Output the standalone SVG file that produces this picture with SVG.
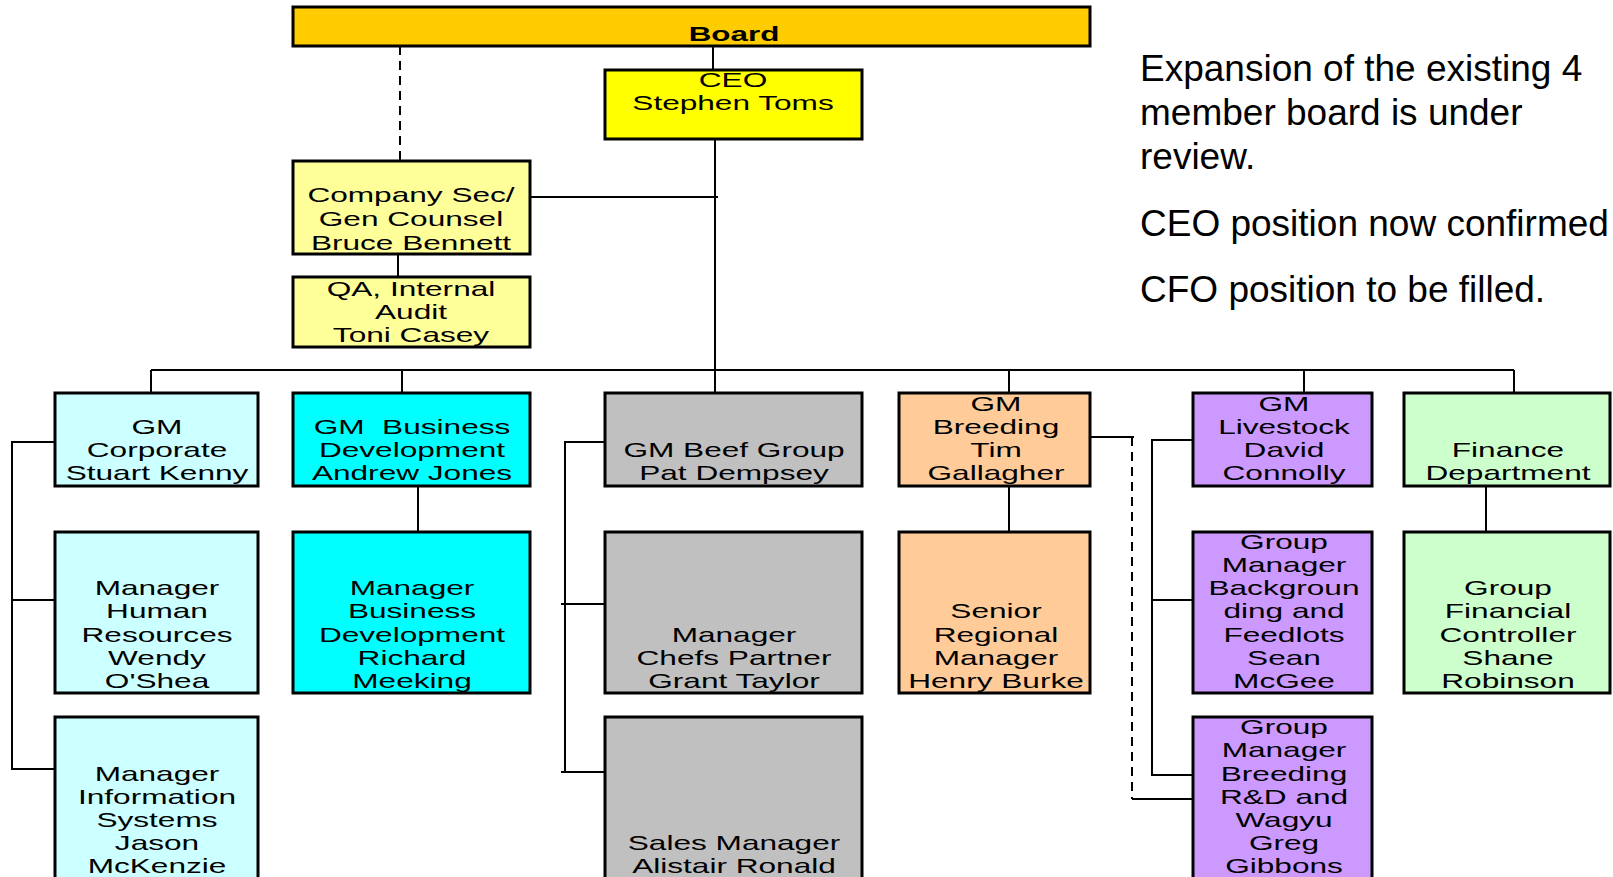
<svg xmlns="http://www.w3.org/2000/svg" width="1613" height="877" viewBox="0 0 1613 877">
<style>
.box{stroke:#000;stroke-width:3}
.t{font-family:"Liberation Sans",Arial,sans-serif;font-size:20px;fill:#000;text-anchor:middle}
.b{font-weight:bold}
.c{stroke:#000;stroke-width:2;fill:none}
.d{stroke:#000;stroke-width:2;fill:none;stroke-dasharray:9,6}
.note{font-family:"Liberation Sans",Arial,sans-serif;font-size:37px;fill:#000}
</style>
<rect width="1613" height="877" fill="#fff"/>
<g id="connectors">
<line class="c" x1="713" y1="46" x2="713" y2="70"/>
<line class="d" x1="400" y1="46" x2="400" y2="161"/>
<line class="c" x1="715" y1="139" x2="715" y2="393"/>
<line class="c" x1="526" y1="197" x2="718" y2="197"/>
<line class="c" x1="398" y1="254" x2="398" y2="277"/>
<line class="c" x1="151" y1="370" x2="1514" y2="370"/>
<line class="c" x1="151" y1="370" x2="151" y2="393"/>
<line class="c" x1="402" y1="370" x2="402" y2="393"/>
<line class="c" x1="1009" y1="370" x2="1009" y2="393"/>
<line class="c" x1="1304" y1="370" x2="1304" y2="393"/>
<line class="c" x1="1514" y1="370" x2="1514" y2="393"/>
<polyline class="c" points="55,442 12,442 12,769 55,769"/>
<line class="c" x1="12" y1="600" x2="55" y2="600"/>
<line class="c" x1="418" y1="486" x2="418" y2="532"/>
<polyline class="c" points="605,442 565,442 565,772"/>
<line class="c" x1="561" y1="604" x2="607" y2="604"/>
<line class="c" x1="561" y1="772" x2="610" y2="772"/>
<line class="c" x1="1009" y1="486" x2="1009" y2="532"/>
<line class="c" x1="1090" y1="437" x2="1134" y2="437"/>
<line class="d" x1="1132" y1="437" x2="1132" y2="799"/>
<line class="c" x1="1132" y1="799" x2="1193" y2="799"/>
<polyline class="c" points="1193,440 1152,440 1152,775 1193,775"/>
<line class="c" x1="1152" y1="600" x2="1193" y2="600"/>
<line class="c" x1="1486" y1="486" x2="1486" y2="532"/>
</g>
<g id="board">
<rect class="box" x="293" y="7" width="797" height="39" fill="#FFCC00"/>
<text class="t b" transform="translate(734,41) scale(1.57,1)">Board</text>
</g>
<g id="ceo">
<rect class="box" x="605" y="70" width="257" height="69" fill="#FFFF00"/>
<text class="t" transform="translate(733,0) scale(1.58,1)"><tspan x="0" y="87">CEO</tspan><tspan x="0" y="110">Stephen Toms</tspan></text>
</g>
<g id="company-sec">
<rect class="box" x="293" y="161" width="237" height="93" fill="#FFFF99"/>
<text class="t" transform="translate(411,0) scale(1.58,1)"><tspan x="0" y="202">Company Sec/</tspan><tspan x="0" y="226">Gen Counsel</tspan><tspan x="0" y="250">Bruce Bennett</tspan></text>
</g>
<g id="qa">
<rect class="box" x="293" y="277" width="237" height="70" fill="#FFFF99"/>
<text class="t" transform="translate(411,0) scale(1.58,1)"><tspan x="0" y="296">QA, Internal</tspan><tspan x="0" y="319">Audit</tspan><tspan x="0" y="342">Toni Casey</tspan></text>
</g>
<g id="gm-corporate">
<rect class="box" x="55" y="393" width="203" height="93" fill="#CCFFFF"/>
<text class="t" transform="translate(157,0) scale(1.58,1)"><tspan x="0" y="434">GM</tspan><tspan x="0" y="457">Corporate</tspan><tspan x="0" y="480">Stuart Kenny</tspan></text>
</g>
<g id="gm-business-dev">
<rect class="box" x="293" y="393" width="237" height="93" fill="#00FFFF"/>
<text class="t" transform="translate(412,0) scale(1.58,1)" xml:space="preserve"><tspan x="0" y="434">GM  Business</tspan><tspan x="0" y="457">Development</tspan><tspan x="0" y="480">Andrew Jones</tspan></text>
</g>
<g id="gm-beef">
<rect class="box" x="605" y="393" width="257" height="93" fill="#C0C0C0"/>
<text class="t" transform="translate(734,0) scale(1.58,1)"><tspan x="0" y="457">GM Beef Group</tspan><tspan x="0" y="480">Pat Dempsey</tspan></text>
</g>
<g id="gm-breeding">
<rect class="box" x="899" y="393" width="191" height="93" fill="#FFCC99"/>
<text class="t" transform="translate(996,0) scale(1.58,1)"><tspan x="0" y="411">GM</tspan><tspan x="0" y="434">Breeding</tspan><tspan x="0" y="457">Tim</tspan><tspan x="0" y="480">Gallagher</tspan></text>
</g>
<g id="gm-livestock">
<rect class="box" x="1193" y="393" width="179" height="93" fill="#CC99FF"/>
<text class="t" transform="translate(1284,0) scale(1.58,1)"><tspan x="0" y="411">GM</tspan><tspan x="0" y="434">Livestock</tspan><tspan x="0" y="457">David</tspan><tspan x="0" y="480">Connolly</tspan></text>
</g>
<g id="finance">
<rect class="box" x="1404" y="393" width="206" height="93" fill="#CCFFCC"/>
<text class="t" transform="translate(1508,0) scale(1.58,1)"><tspan x="0" y="457">Finance</tspan><tspan x="0" y="480">Department</tspan></text>
</g>
<g id="manager-hr">
<rect class="box" x="55" y="532" width="203" height="161" fill="#CCFFFF"/>
<text class="t" transform="translate(157,0) scale(1.58,1)"><tspan x="0" y="595">Manager</tspan><tspan x="0" y="618">Human</tspan><tspan x="0" y="642">Resources</tspan><tspan x="0" y="665">Wendy</tspan><tspan x="0" y="688">O'Shea</tspan></text>
</g>
<g id="manager-business-dev">
<rect class="box" x="293" y="532" width="237" height="161" fill="#00FFFF"/>
<text class="t" transform="translate(412,0) scale(1.58,1)"><tspan x="0" y="595">Manager</tspan><tspan x="0" y="618">Business</tspan><tspan x="0" y="642">Development</tspan><tspan x="0" y="665">Richard</tspan><tspan x="0" y="688">Meeking</tspan></text>
</g>
<g id="manager-chefs">
<rect class="box" x="605" y="532" width="257" height="161" fill="#C0C0C0"/>
<text class="t" transform="translate(734,0) scale(1.58,1)"><tspan x="0" y="642">Manager</tspan><tspan x="0" y="665">Chefs Partner</tspan><tspan x="0" y="688">Grant Taylor</tspan></text>
</g>
<g id="senior-regional">
<rect class="box" x="899" y="532" width="191" height="161" fill="#FFCC99"/>
<text class="t" transform="translate(996,0) scale(1.58,1)"><tspan x="0" y="618">Senior</tspan><tspan x="0" y="642">Regional</tspan><tspan x="0" y="665">Manager</tspan><tspan x="0" y="688">Henry Burke</tspan></text>
</g>
<g id="group-manager-backgrounding">
<rect class="box" x="1193" y="532" width="179" height="161" fill="#CC99FF"/>
<text class="t" transform="translate(1284,0) scale(1.58,1)"><tspan x="0" y="549">Group</tspan><tspan x="0" y="572">Manager</tspan><tspan x="0" y="595">Backgroun</tspan><tspan x="0" y="618">ding and</tspan><tspan x="0" y="642">Feedlots</tspan><tspan x="0" y="665">Sean</tspan><tspan x="0" y="688">McGee</tspan></text>
</g>
<g id="group-financial-controller">
<rect class="box" x="1404" y="532" width="206" height="161" fill="#CCFFCC"/>
<text class="t" transform="translate(1508,0) scale(1.58,1)"><tspan x="0" y="595">Group</tspan><tspan x="0" y="618">Financial</tspan><tspan x="0" y="642">Controller</tspan><tspan x="0" y="665">Shane</tspan><tspan x="0" y="688">Robinson</tspan></text>
</g>
<g id="manager-is">
<rect class="box" x="55" y="717" width="203" height="170" fill="#CCFFFF"/>
<text class="t" transform="translate(157,0) scale(1.58,1)"><tspan x="0" y="781">Manager</tspan><tspan x="0" y="804">Information</tspan><tspan x="0" y="827">Systems</tspan><tspan x="0" y="850">Jason</tspan><tspan x="0" y="873">McKenzie</tspan></text>
</g>
<g id="sales-manager">
<rect class="box" x="605" y="717" width="257" height="170" fill="#C0C0C0"/>
<text class="t" transform="translate(734,0) scale(1.58,1)"><tspan x="0" y="850">Sales Manager</tspan><tspan x="0" y="873">Alistair Ronald</tspan></text>
</g>
<g id="group-manager-breeding">
<rect class="box" x="1193" y="717" width="179" height="170" fill="#CC99FF"/>
<text class="t" transform="translate(1284,0) scale(1.58,1)"><tspan x="0" y="734">Group</tspan><tspan x="0" y="757">Manager</tspan><tspan x="0" y="781">Breeding</tspan><tspan x="0" y="804">R&amp;D and</tspan><tspan x="0" y="827">Wagyu</tspan><tspan x="0" y="850">Greg</tspan><tspan x="0" y="873">Gibbons</tspan></text>
</g>
<g id="notes">
<text class="note"><tspan x="1140" y="81">Expansion of the existing 4</tspan><tspan x="1140" y="125">member board is under</tspan><tspan x="1140" y="169">review.</tspan><tspan x="1140" y="236">CEO position now confirmed</tspan><tspan x="1140" y="302">CFO position to be filled.</tspan></text>
</g>
</svg>
